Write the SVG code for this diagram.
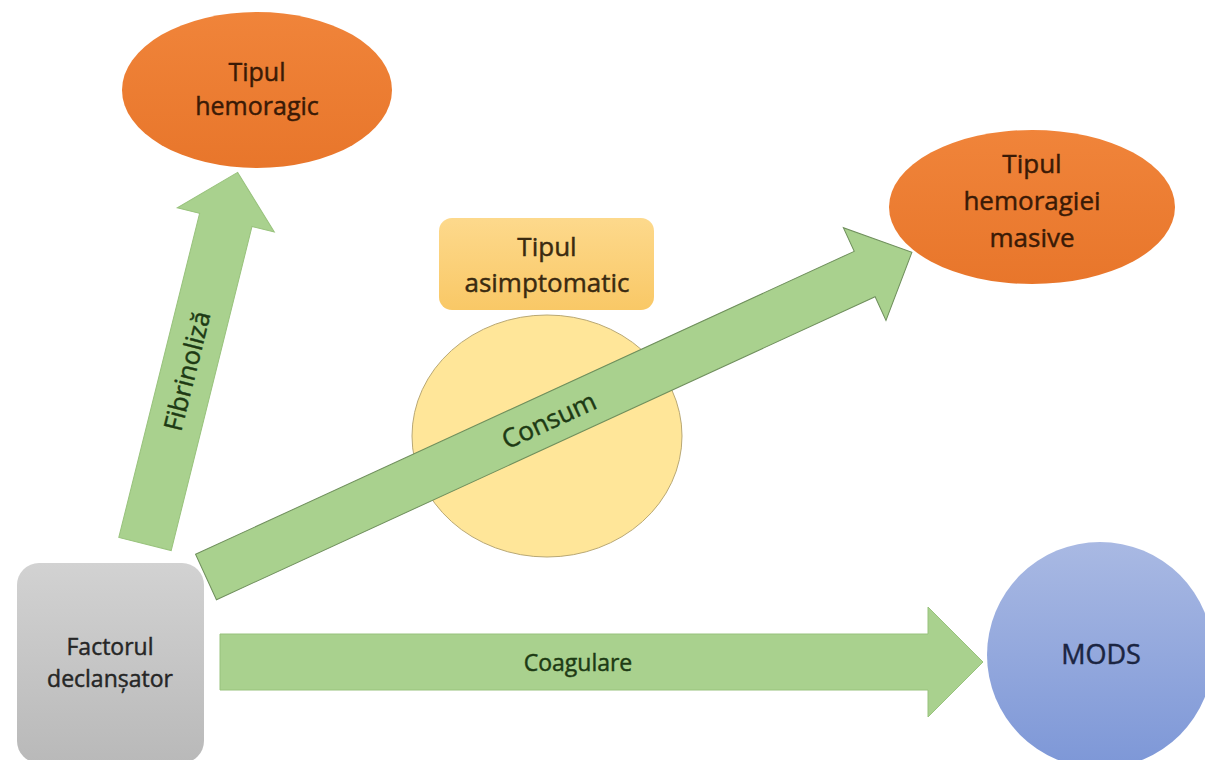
<svg xmlns="http://www.w3.org/2000/svg" width="1205" height="760" viewBox="0 0 1205 760">
  <defs>
    <linearGradient id="gGray" x1="0" y1="0" x2="0" y2="1">
      <stop offset="0" stop-color="#d2d2d2"/>
      <stop offset="1" stop-color="#b9b9b9"/>
    </linearGradient>
    <linearGradient id="gOrange" x1="0" y1="0" x2="0" y2="1">
      <stop offset="0" stop-color="#f0843a"/>
      <stop offset="1" stop-color="#e8762b"/>
    </linearGradient>
    <linearGradient id="gPeach" x1="0" y1="0" x2="0" y2="1">
      <stop offset="0" stop-color="#fdd98c"/>
      <stop offset="1" stop-color="#f9c866"/>
    </linearGradient>
    <linearGradient id="gBlue" x1="0" y1="0" x2="0" y2="1">
      <stop offset="0" stop-color="#a9b9e3"/>
      <stop offset="1" stop-color="#7d97d7"/>
    </linearGradient>
  </defs>
  <style>
    text { font-family: "Open Sans", "Liberation Sans", sans-serif; text-anchor: middle; stroke-width: 0.45; }
    .arrow { fill: #a9d18e; stroke: #98c27c; stroke-width: 1; }
    .arrowDark { fill: #a9d18e; stroke: #6f8f5c; stroke-width: 1; }
    .lbl { font-size: 23px; fill: #1d3a14; stroke: #1d3a14; }
    .gray { fill: #262626; stroke: #262626; }
    .brown { font-size: 26px; fill: #3a1a06; stroke: #3a1a06; }
    .tan { font-size: 26px; fill: #3a2a10; stroke: #3a2a10; }
    .navy { font-size: 27px; fill: #1b2542; stroke: #1b2542; }
  </style>
  <rect width="1205" height="760" fill="#ffffff"/>

  <g id="yellow-circle">
    <ellipse cx="547" cy="436" rx="135" ry="121" fill="#ffe699" stroke="#b9a874" stroke-width="1"/>
  </g>

  <g id="connectors">
    <g id="arrow-fibrinoliza" transform="translate(145,544) rotate(-76)">
      <polygon class="arrow" points="0,-27 334,-27 334,-50 383,0 334,50 334,27 0,27"/>
      <text class="lbl" x="178" y="-2" dominant-baseline="central" style="font-size:25.5px">Fibrinoliză</text>
    </g>
    <g id="arrow-consum" transform="translate(206,577) rotate(-24.7)">
      <polygon class="arrowDark" points="0,-25 725,-25 725,-51 777,0 725,51 725,25 0,25"/>
      <text class="lbl" x="377" y="0" dominant-baseline="central" style="font-size:26px">Consum</text>
    </g>
    <g id="arrow-coagulare">
      <polygon class="arrow" points="220,634 928,634 928,607 983,662 928,717 928,690 220,690"/>
      <text class="lbl" x="578" y="671">Coagulare</text>
    </g>
  </g>

  <g id="node-factorul">
    <rect x="17" y="563" width="187" height="200" rx="22" ry="22" fill="url(#gGray)"/>
    <text class="lbl gray" x="110" y="655">Factorul</text>
    <text class="lbl gray" x="110" y="687">declanșator</text>
  </g>

  <g id="node-hemoragic">
    <ellipse cx="257" cy="90" rx="135" ry="78" fill="url(#gOrange)"/>
    <text class="brown" x="257" y="81" style="font-size:25px">Tipul</text>
    <text class="brown" x="257" y="115" style="font-size:25px">hemoragic</text>
  </g>

  <g id="node-asimptomatic">
    <rect x="439" y="218" width="215" height="92" rx="13" ry="13" fill="url(#gPeach)"/>
    <text class="tan" x="547" y="256">Tipul</text>
    <text class="tan" x="547" y="292">asimptomatic</text>
  </g>

  <g id="node-masive">
    <ellipse cx="1032" cy="207" rx="143" ry="77" fill="url(#gOrange)"/>
    <text class="brown" x="1032" y="173">Tipul</text>
    <text class="brown" x="1032" y="210">hemoragiei</text>
    <text class="brown" x="1032" y="247">masive</text>
  </g>

  <g id="node-mods">
    <circle cx="1100" cy="655" r="113" fill="url(#gBlue)"/>
    <text class="navy" x="1101" y="664">MODS</text>
  </g>
</svg>
